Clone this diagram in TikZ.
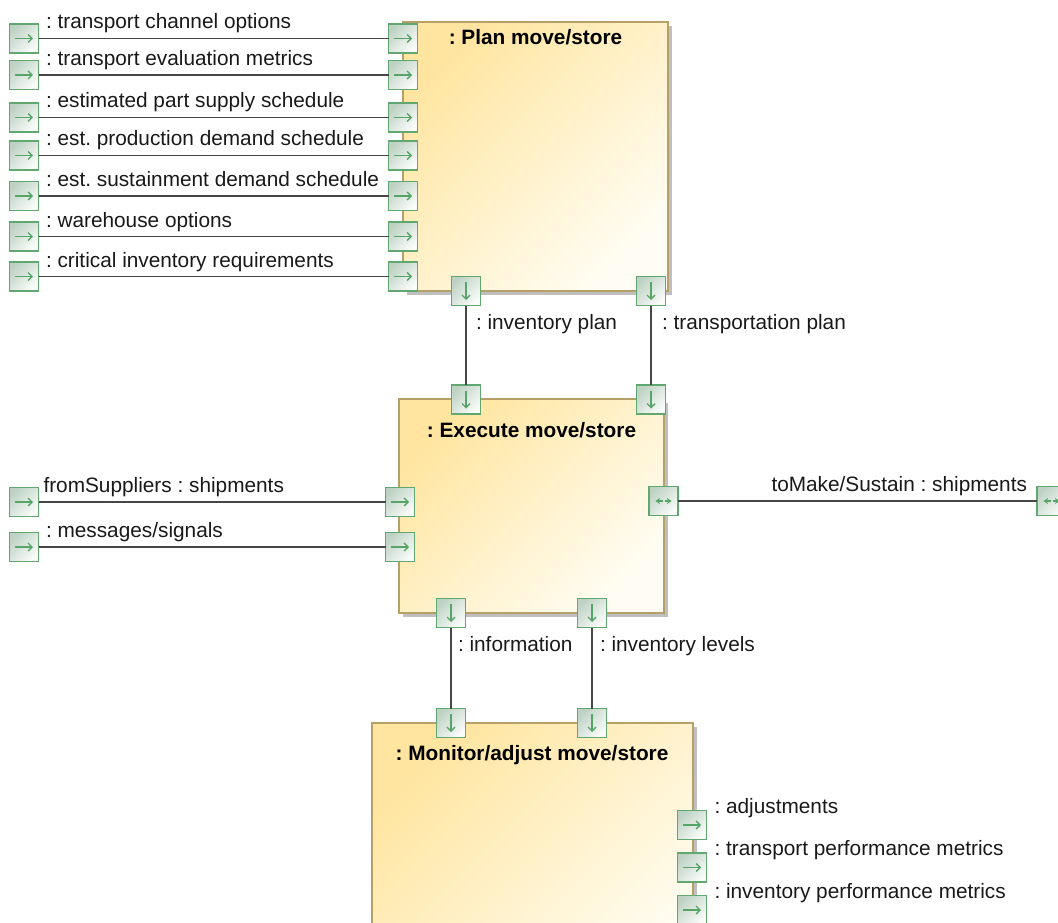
\documentclass[tikz,border=0pt]{standalone}
\usepackage{fontspec}
\setmainfont{Liberation Sans}
\usepackage{tikz}
\usetikzlibrary{arrows,arrows.meta,shadows}
\frenchspacing

\definecolor{boxtop}{RGB}{255,229,160}
\definecolor{boxbot}{RGB}{255,253,243}
\definecolor{boxline}{RGB}{182,160,104}
\definecolor{porttop}{RGB}{190,210,196}
\definecolor{portbot}{RGB}{250,252,250}
\definecolor{portline}{RGB}{96,168,112}
\definecolor{portarr}{RGB}{86,164,102}
\definecolor{wirecol}{RGB}{70,70,70}

\tikzset{
  part/.style={draw=boxline, line width=1.6pt, top color=boxtop, bottom color=boxbot, shading angle=45,
    drop shadow={shadow xshift=4pt, shadow yshift=-4pt, fill=black!25, opacity=1}, inner sep=0pt, outer sep=0pt},
  port/.style={draw=portline, line width=1.6pt, top color=porttop, bottom color=portbot, shading angle=45,
    minimum size=29pt, inner sep=0pt, outer sep=0pt},
  parr/.style={portarr, line width=1.4pt, -{Straight Barb[length=4pt,width=8pt]}},
  portR/.style={port, path picture={\draw[parr]
    ([xshift=-9pt]path picture bounding box.center) -- ([xshift=9pt]path picture bounding box.center);}},
  portD/.style={port, path picture={\draw[parr]
    ([yshift=9pt]path picture bounding box.center) -- ([yshift=-9pt]path picture bounding box.center);}},
  portLR/.style={port, path picture={
    \draw[portarr, line width=1.2pt, -{Stealth[length=4.5pt,width=6pt]}] ([xshift=-1pt]path picture bounding box.center) -- ([xshift=-8pt]path picture bounding box.center);
    \draw[portarr, line width=1.2pt, -{Stealth[length=4.5pt,width=6pt]}] ([xshift=1pt]path picture bounding box.center) -- ([xshift=8pt]path picture bounding box.center);}},
  lbl/.style={font=\fontsize{20.8}{25}\selectfont, text=black!90, inner sep=0pt, outer sep=0pt},
  title/.style={font=\bfseries\fontsize{20.8}{25}\selectfont, inner sep=0pt, anchor=base},
  inlbl/.style={lbl, pos=0, anchor=base west, xshift=#1, yshift=9.5pt},
  inlbl/.default=7.5pt,
  outlbl/.style={lbl, pos=1, anchor=base east, xshift=-10pt, yshift=9.5pt},
  vlbl/.style={lbl, pos=0.3, anchor=base west, xshift=#1},
  vlbl/.default=10pt
}

\begin{document}
\begin{tikzpicture}[x=1pt,y=-1pt,every edge/.style={draw=wirecol, line width=1.5pt}]
        \path[use as bounding box, clip] (0,0) rectangle (1058,923);

        % parts
        \node[part, minimum width=265pt, minimum height=269pt] (A) at (535.5,156.5) {};
        \node[part, minimum width=265pt, minimum height=214pt] (B) at (531.5,506)   {};
        \node[part, minimum width=321pt, minimum height=280pt] (C) at (532.5,863)   {};
        \node[title] (At) at (535.5,45)  {: Plan move/store};
        \node[title] (Bt) at (531.5,437) {: Execute move/store};
        \node[title] (Ct) at (532,760)   {: Monitor/adjust move/store};

        % ports on the frame
        \node[portR] (L1) at (24,38.5)   {};
        \node[portR] (L2) at (24,75)     {};
        \node[portR] (L3) at (24,117.5)  {};
        \node[portR] (L4) at (24,155.5)  {};
        \node[portR] (L5) at (24,196)    {};
        \node[portR] (L6) at (24,236.5)  {};
        \node[portR] (L7) at (24,276.5)  {};
        \node[portR] (L8) at (24,502)    {};
        \node[portR] (L9) at (24,547)    {};
        \node[portLR] (R1) at (1051.5,501) {};

        % ports on the parts
        \node[portR] (A1) at (403,38.5)  {};
        \node[portR] (A2) at (403,75)    {};
        \node[portR] (A3) at (403,117.5) {};
        \node[portR] (A4) at (403,155.5) {};
        \node[portR] (A5) at (403,196)   {};
        \node[portR] (A6) at (403,236.5) {};
        \node[portR] (A7) at (403,276.5) {};
        \node[portD] (A8) at (466,291)   {};
        \node[portD] (A9) at (651,291)   {};

        \node[portD] (B1) at (466,399.5) {};
        \node[portD] (B2) at (651,399.5) {};
        \node[portR] (B3) at (400,502)   {};
        \node[portR] (B4) at (400,547)   {};
        \node[portLR] (B5) at (663.5,501) {};
        \node[portD] (B6) at (451,613)   {};
        \node[portD] (B7) at (592,613)   {};

        \node[portD] (C1) at (451,723)   {};
        \node[portD] (C2) at (592,723)   {};
        \node[portR] (C3) at (692,825)   {};
        \node[portR] (C4) at (692,867.5) {};
        \node[portR] (C5) at (692,910)   {};

        \node[lbl, anchor=base west] (T1) at (714.5,813)   {: adjustments};
        \node[lbl, anchor=base west] (T2) at (714.5,855.5) {: transport performance metrics};
        \node[lbl, anchor=base west] (T3) at (714.5,898)   {: inventory performance metrics};

        \path
        (L1) edge node[inlbl] {: transport channel options} (A1)
        (L2) edge node[inlbl] {: transport evaluation metrics} (A2)
        (L3) edge node[inlbl] {: estimated part supply schedule} (A3)
        (L4) edge node[inlbl] {: est. production demand schedule} (A4)
        (L5) edge node[inlbl] {: est. sustainment demand schedule} (A5)
        (L6) edge node[inlbl] {: warehouse options} (A6)
        (L7) edge node[inlbl] {: critical inventory requirements} (A7)
        (A8) edge node[vlbl] {: inventory plan} (B1)
        (A9) edge node[vlbl=11pt] {: transportation plan} (B2)
        (L8) edge node[inlbl=5pt] {fromSuppliers : shipments} (B3)
        (L9) edge node[inlbl] {: messages/signals} (B4)
        (B5) edge node[outlbl] {toMake/Sustain : shipments} (R1)
        (B6) edge node[vlbl=7pt] {: information} (C1)
        (B7) edge node[vlbl=8pt] {: inventory levels} (C2);
    \end{tikzpicture}
\end{document}
